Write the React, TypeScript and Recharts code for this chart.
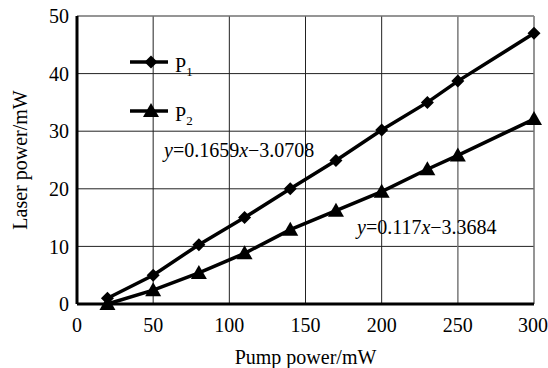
import { LineChart, Line, XAxis, YAxis, CartesianGrid, ReferenceLine } from "recharts";

const pumpPower = [20, 50, 80, 110, 140, 170, 200, 230, 250, 300];
const p1Values = [1, 5, 10.3, 15, 20, 24.9, 30.2, 35, 38.7, 47];
const p2Values = [0, 2.4, 5.4, 8.8, 12.9, 16.2, 19.5, 23.4, 25.8, 32.1];
const xTicks = [0, 50, 100, 150, 200, 250, 300];
const yTicks = [0, 10, 20, 30, 40, 50];
const fitP1 = ["0.1659", "3.0708"];
const fitP2 = ["0.117", "3.3684"];

const data = pumpPower.map((x, i) => ({ x, p1: p1Values[i], p2: p2Values[i] }));

const FONT = "Liberation Serif, DejaVu Serif, serif";

const Diamond = (props: any) => {
  const { cx, cy } = props;
  if (cx == null || cy == null) return null;
  const r = 6.5;
  return <polygon points={`${cx},${cy - r} ${cx + r},${cy} ${cx},${cy + r} ${cx - r},${cy}`} fill="#000" />;
};

const Triangle = (props: any) => {
  const { cx, cy } = props;
  if (cx == null || cy == null) return null;
  return <polygon points={`${cx},${cy - 8} ${cx + 8},${cy + 6} ${cx - 8},${cy + 6}`} fill="#000" />;
};

export default function App() {
  const tick = { fill: "#000", fontSize: 20, fontFamily: FONT, style: { fontFamily: FONT } };
  return (
    <div style={{ position: "absolute", left: 0, top: 0, width: 548, height: 368, background: "#fff", fontFamily: FONT }}>
      <LineChart width={548} height={368} data={data} margin={{ top: 16, right: 14, bottom: 4, left: 0 }} style={{ fontFamily: FONT }}>
        <CartesianGrid stroke="#222" strokeWidth={1} />
        <ReferenceLine x={250} stroke="#999" />
        <ReferenceLine x={300} stroke="#999" />
        <ReferenceLine y={50} stroke="#999" />
        <XAxis
          dataKey="x"
          type="number"
          domain={[0, 300]}
          ticks={xTicks}
          height={60}
          tickLine={false}
          tickMargin={8}
          axisLine={{ stroke: "#000", strokeWidth: 3 }}
          tick={tick}
          label={{
            value: "Pump power/mW",
            position: "insideBottom",
            offset: 0,
            fill: "#000",
            fontSize: 20,
            style: { fontFamily: FONT },
          }}
        />
        <YAxis
          type="number"
          domain={[0, 50]}
          ticks={yTicks}
          width={77}
          tickLine={false}
          axisLine={{ stroke: "#000", strokeWidth: 3 }}
          tick={tick}
          label={{
            value: "Laser power/mW",
            angle: -90,
            position: "insideLeft",
            offset: 20,
            fill: "#000",
            fontSize: 20,
            style: { textAnchor: "middle", fontFamily: FONT },
          }}
        />
        <Line dataKey="p1" stroke="#000" strokeWidth={3.5} dot={<Diamond />} isAnimationActive={false} />
        <Line dataKey="p2" stroke="#000" strokeWidth={3.5} dot={<Triangle />} isAnimationActive={false} />
      </LineChart>
      <svg width={548} height={368} style={{ position: "absolute", left: 0, top: 0, pointerEvents: "none", fontFamily: FONT }}>
        <g fill="#000">
          <line x1={130} y1={62} x2={168} y2={62} stroke="#000" strokeWidth={3.5} />
          <Diamond cx={151} cy={62} />
          <text x={175} y={72} fontSize={20}>
            P<tspan fontSize={13} dy={4}>1</tspan>
          </text>
          <line x1={130} y1={111} x2={168} y2={111} stroke="#000" strokeWidth={3.5} />
          <Triangle cx={151} cy={111} />
          <text x={175} y={121} fontSize={20}>
            P<tspan fontSize={13} dy={4}>2</tspan>
          </text>
          <text x={164} y={157} fontSize={20}>
            <tspan fontStyle="italic">y</tspan>={fitP1[0]}
            <tspan fontStyle="italic">x</tspan>−{fitP1[1]}
          </text>
          <text x={357} y={234} fontSize={20}>
            <tspan fontStyle="italic">y</tspan>={fitP2[0]}
            <tspan fontStyle="italic">x</tspan>−{fitP2[1]}
          </text>
        </g>
      </svg>
    </div>
  );
}
